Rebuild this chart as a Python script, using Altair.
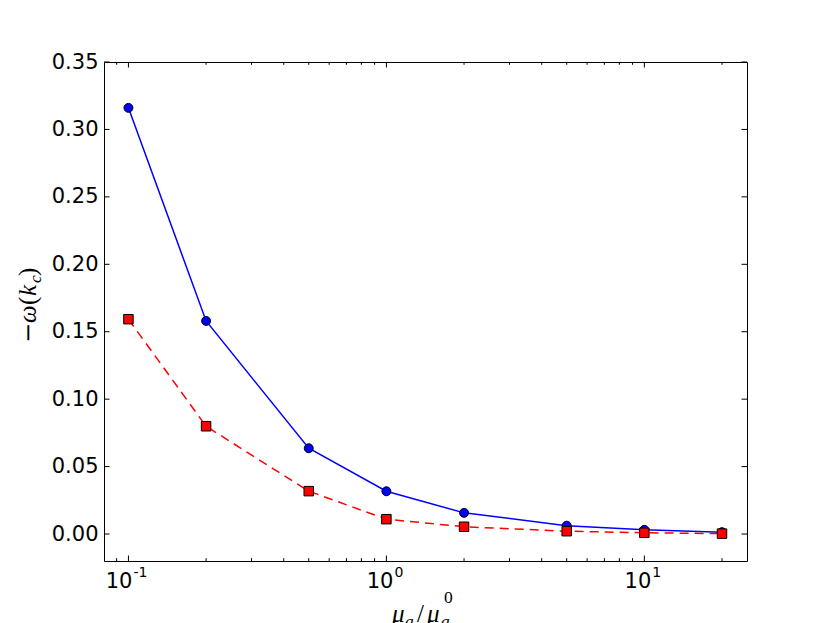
import altair as alt
import pandas as pd

# ---- data ----
mu_ratio = [0.1, 0.2, 0.5, 1, 2, 5, 10, 20]
omega_circle = [0.316, 0.158, 0.0636, 0.0317, 0.0157, 0.0062, 0.0031, 0.0014]
omega_square = [0.1593, 0.0799, 0.0318, 0.0110, 0.0054, 0.0021, 0.0009, 0.0003]

y_ticks = [0.0, 0.05, 0.10, 0.15, 0.20, 0.25, 0.30, 0.35]
x_major = [0.1, 1, 10]
x_major_exp = ["-1", "0", "1"]
x_minor = [0.09, 0.2, 0.3, 0.4, 0.5, 0.6, 0.7, 0.8, 0.9,
           2, 3, 4, 5, 6, 7, 8, 9, 20]

W, H = 643, 499
xs = alt.Scale(type="log", domain=[0.0804, 25], nice=False)
ys = alt.Scale(domain=[-0.02, 0.35], nice=False, zero=False)

df_c = pd.DataFrame({"x": mu_ratio, "y": omega_circle})
df_s = pd.DataFrame({"x": mu_ratio, "y": omega_square})

X = alt.X("x:Q", scale=xs,
          axis=alt.Axis(labels=False, ticks=False, domain=False, grid=False, title=None))
Y = alt.Y("y:Q", scale=ys,
          axis=alt.Axis(values=y_ticks, format=".2f", ticks=False, domain=False,
                        grid=False, title=None, labelFont="DejaVu Sans",
                        labelFontSize=21, labelColor="black", labelPadding=6))

layers = []

# blue solid line with circles
layers.append(alt.Chart(df_c).mark_line(color="#0000ff", strokeWidth=1.5)
              .encode(x=X, y=Y))
layers.append(alt.Chart(df_c).mark_circle(color="#0000ff", stroke="black", strokeWidth=1,
                                          size=80, opacity=1)
              .encode(x=X, y=Y))
# red dashed line with squares
layers.append(alt.Chart(df_s).mark_line(color="#ff0000", strokeWidth=1.5, strokeDash=[9, 6])
              .encode(x=X, y=Y))
layers.append(alt.Chart(df_s).mark_square(color="#ff0000", stroke="black", strokeWidth=1,
                                          size=90, opacity=1)
              .encode(x=X, y=Y))

# inward ticks (matplotlib classic style)
dfx_major = pd.DataFrame({"x": x_major})
dfx_minor = pd.DataFrame({"x": x_minor})
dfy = pd.DataFrame({"y": y_ticks})
for d, L in ((dfx_major, 5.5), (dfx_minor, 2.8)):
    layers.append(alt.Chart(d).mark_rule(color="black", strokeWidth=1)
                  .encode(x=X, y=alt.value(H), y2=alt.value(H - L)))
    layers.append(alt.Chart(d).mark_rule(color="black", strokeWidth=1)
                  .encode(x=X, y=alt.value(0), y2=alt.value(L)))
layers.append(alt.Chart(dfy).mark_rule(color="black", strokeWidth=1)
              .encode(y=Y, x=alt.value(0), x2=alt.value(5.5)))
layers.append(alt.Chart(dfy).mark_rule(color="black", strokeWidth=1)
              .encode(y=Y, x=alt.value(W), x2=alt.value(W - 5.5)))

# x tick labels 10^n
for v, e in zip(x_major, x_major_exp):
    off = 4 if e.startswith("-") else 7
    d = pd.DataFrame({"x": [v], "b": ["10"], "e": [e]})
    layers.append(alt.Chart(d).mark_text(align="right", baseline="alphabetic", dx=off,
                                         font="DejaVu Sans", fontSize=21, color="black")
                  .encode(x=X, y=alt.value(H + 27), text="b:N"))
    layers.append(alt.Chart(d).mark_text(align="left", baseline="alphabetic", dx=off + 1,
                                         font="DejaVu Sans", fontSize=14, color="black")
                  .encode(x=X, y=alt.value(H + 16), text="e:N"))


def piece(s, x, y, size, italic, angle=0, font="Liberation Serif"):
    d = pd.DataFrame({"t": [s]})
    return (alt.Chart(d).mark_text(align="left", baseline="alphabetic", angle=angle,
                                   font=font, fontSize=size,
                                   fontStyle="italic" if italic else "normal",
                                   color="black")
            .encode(x=alt.value(x), y=alt.value(y), text="t:N"))


# y title: −ω(k_c)
yb = -68
layers += [
    piece("\u2212", yb, 281, 24, False, 270, font="DejaVu Serif"),
    piece("\u03c9", yb, 261, 25, True, 270),
    piece("(", yb, 243, 25, False, 270),
    piece("k", yb, 234, 25, True, 270),
    piece("c", yb + 5, 221, 17.5, True, 270),
    piece(")", yb, 214, 25, False, 270),
]

# x title: μ_a / μ_a^0
layers += [
    piece("\u03bc", 288, 560, 25, True),
    piece("a", 301, 565, 17.5, True),
    piece("/", 313, 560, 25, False),
    piece("\u03bc", 323, 560, 25, True),
    piece("0", 340, 541, 17.5, False),
    piece("a", 337, 565, 17.5, True),
]

chart = (alt.layer(*layers)
         .properties(width=W, height=H,
                     autosize=alt.AutoSizeParams(type="none"),
                     padding={"left": 96, "top": 54, "right": 75, "bottom": 70},
                     background="white")
         .configure_view(stroke="black", strokeWidth=1))

chart.save("out.html", embed_options={"renderer": "svg", "actions": False})
